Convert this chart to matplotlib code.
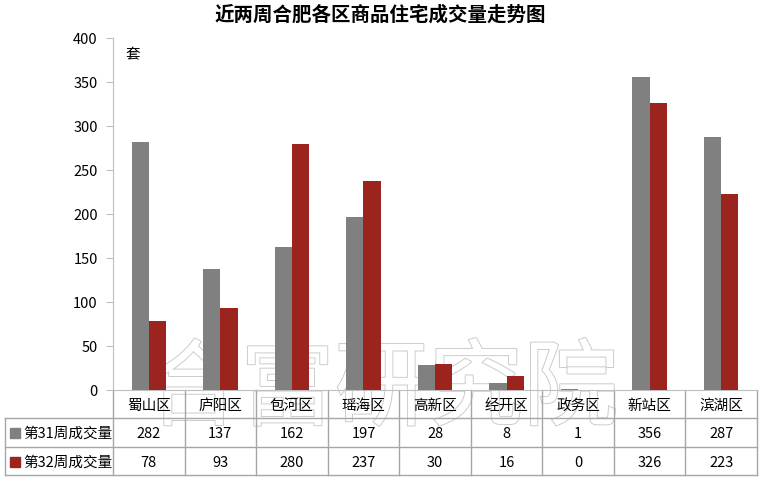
import matplotlib.pyplot as plt
import matplotlib.patheffects as pe
from matplotlib.transforms import blended_transform_factory
from matplotlib.lines import Line2D
from matplotlib.patches import Rectangle
import numpy as np

plt.rcParams['font.family'] = ['Noto Sans CJK SC', 'DejaVu Sans']

districts = ['蜀山区', '庐阳区', '包河区', '瑶海区', '高新区', '经开区', '政务区', '新站区', '滨湖区']
week31 = [282, 137, 162, 197, 28, 8, 1, 356, 287]
week32 = [78, 93, 280, 237, 30, 16, 0, 326, 223]
series_names = ['第31周成交量', '第32周成交量']
colors = ['#808080', '#9B241F']

W, H = 761, 481
fig = plt.figure(figsize=(W / 100, H / 100), dpi=100)
ax = fig.add_axes([113 / W, (H - 391) / H, (757 - 113) / W, (391 - 39) / H])
ax.patch.set_alpha(0)

# watermark behind everything
fig.text(382 / W, (H - 392) / H, '合富研究院', fontsize=68, color='white', ha='center', va='center',
         zorder=-1, path_effects=[pe.withStroke(linewidth=1.3, foreground='#c8c8c8')])

x = np.arange(len(districts))
bw = 0.24
ax.bar(x - bw / 2, week31, bw, color=colors[0], zorder=3)
ax.bar(x + bw / 2, week32, bw, color=colors[1], zorder=3)

ax.set_xlim(-0.5, len(districts) - 0.5)
ax.set_ylim(0, 400)
ax.set_yticks(np.arange(0, 401, 50))
ax.set_xticks([])
for s in ['top', 'right']:
    ax.spines[s].set_visible(False)
ax.spines['left'].set_color('#bfbfbf')
ax.spines['bottom'].set_color('#bfbfbf')
ax.tick_params(axis='y', length=5, color='#bfbfbf', labelsize=10.5, pad=6)
ax.text(0.02, 0.975, '套', transform=ax.transAxes, fontsize=10.5, va='top', ha='left')

fig.text(380 / W, (H - 15) / H, '近两周合肥各区商品住宅成交量走势图', fontsize=14, fontweight='heavy',
         ha='center', va='center')

# data table under the axis
tr = blended_transform_factory(ax.transData, ax.transAxes)


def ay(ypix):
    return (391 - ypix) / 352


line_kw = dict(color='#a6a6a6', lw=1, clip_on=False)
left_x = -0.5 + (5 - 113) / ((757 - 113) / len(districts))
for i in range(len(districts) + 1):
    ax.add_line(Line2D([i - 0.5, i - 0.5], [ay(391), ay(476)], transform=tr, **line_kw))
for yp in [419, 448, 476]:
    ax.add_line(Line2D([left_x, len(districts) - 0.5], [ay(yp), ay(yp)], transform=tr, **line_kw))
ax.add_line(Line2D([left_x, left_x], [ay(419), ay(476)], transform=tr, **line_kw))

for i, d in enumerate(districts):
    ax.text(i, ay(406), d, transform=tr, ha='center', va='center', fontsize=10.5)
    ax.text(i, ay(434), str(week31[i]), transform=tr, ha='center', va='center', fontsize=10.5)
    ax.text(i, ay(463), str(week32[i]), transform=tr, ha='center', va='center', fontsize=10.5)

for j, (name, yp) in enumerate(zip(series_names, [434, 463])):
    fig.patches.append(Rectangle((10 / W, (H - yp - 5) / H), 10 / W, 10 / H, color=colors[j],
                                 transform=fig.transFigure))
    fig.text(23 / W, (H - yp) / H, name, fontsize=10.5, ha='left', va='center')

fig.savefig('out.png', dpi=100)
